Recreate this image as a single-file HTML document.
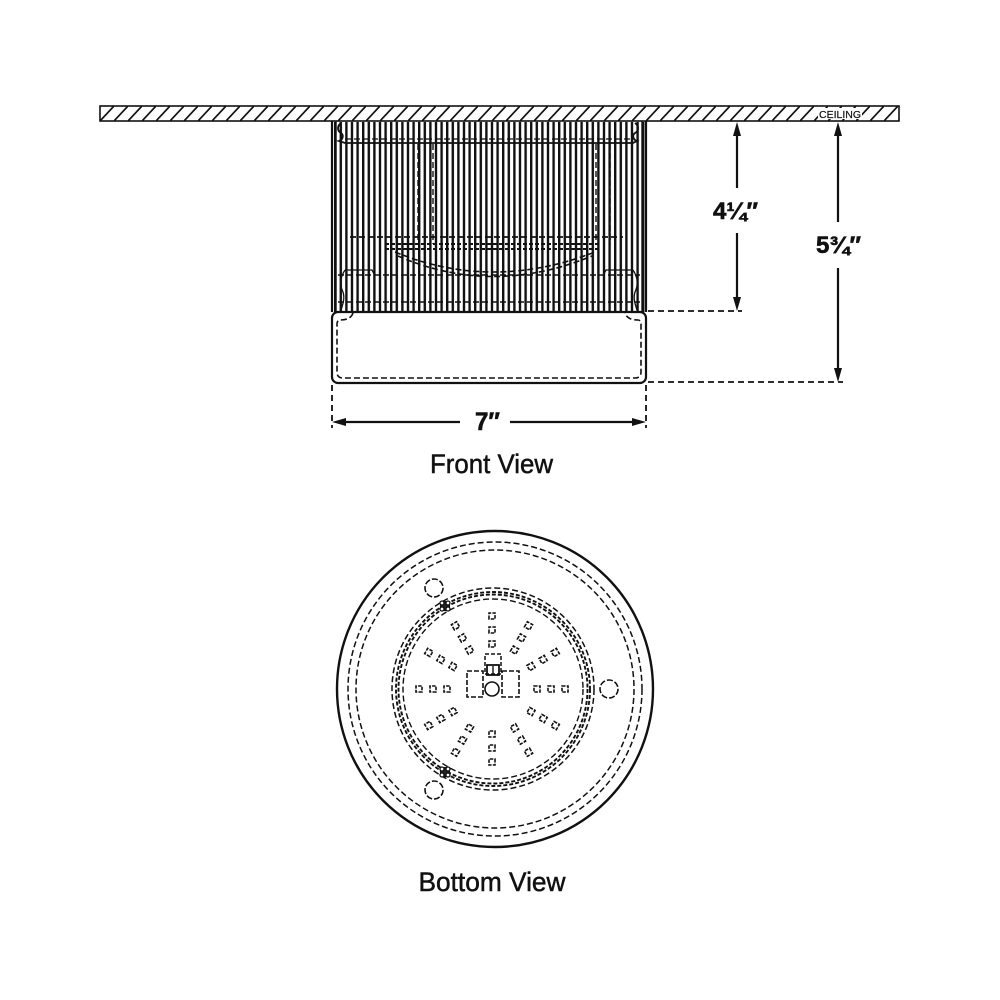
<!DOCTYPE html>
<html>
<head>
<meta charset="utf-8">
<style>
  html,body{margin:0;padding:0;background:#fff;}
  svg{display:block;}
  text{font-family:"Liberation Sans","DejaVu Sans",sans-serif;fill:#111;}
</style>
</head>
<body>
<svg width="1000" height="1000" viewBox="0 0 1000 1000" xmlns="http://www.w3.org/2000/svg">
  <defs>
    <pattern id="grille" x="334" y="0" width="5.6" height="10" patternUnits="userSpaceOnUse">
      <rect x="0" y="0" width="2.4" height="10" fill="#111"/>
    </pattern>
    <pattern id="hatch" x="100" y="106" width="14" height="15" patternUnits="userSpaceOnUse">
      <line x1="0" y1="15" x2="14" y2="0" stroke="#111" stroke-width="1.7"/>
    </pattern>
  </defs>
  <rect width="1000" height="1000" fill="#fff"/>

  <!-- ===== FRONT VIEW ===== -->
  <rect x="100" y="106" width="799" height="15" fill="url(#hatch)" stroke="#111" stroke-width="1.6"/>
  <rect x="818" y="108" width="44" height="11" fill="#fff"/>
  <text x="840" y="118" font-size="10" text-anchor="middle" textLength="42" lengthAdjust="spacingAndGlyphs" stroke="#111" stroke-width="0.2">CEILING</text>

  <!-- Grille -->
  <rect x="333" y="122" width="312" height="190" fill="url(#grille)"/>
  <line x1="332" y1="121" x2="332" y2="312" stroke="#111" stroke-width="2.2"/>
  <line x1="336" y1="121" x2="336" y2="312" stroke="#111" stroke-width="1.4"/>
  <line x1="646" y1="121" x2="646" y2="312" stroke="#111" stroke-width="2.2"/>
  <line x1="642" y1="121" x2="642" y2="312" stroke="#111" stroke-width="1.4"/>

  <!-- top bracket -->
  <g fill="none" stroke="#111" stroke-width="1.8">
    <path d="M341,123 c-4,3 -4,8 0,10 c3,2 2,7 -2,8 L345,143 L633,143 L637,141 c-4,-1 -5,-6 -2,-8 c4,-2 4,-7 0,-10"/>
    <line x1="345" y1="139" x2="633" y2="139" stroke-dasharray="6 3" stroke-width="1.2"/>
  </g>
  <!-- internal dashed detail -->
  <g fill="none" stroke="#111" stroke-width="1.4" stroke-dasharray="6 3">
    <line x1="418" y1="144" x2="418" y2="244"/>
    <line x1="433" y1="144" x2="433" y2="244"/>
    <line x1="596" y1="144" x2="596" y2="244"/>
    <line x1="610" y1="144" x2="610" y2="244"/>
    <line x1="350" y1="237" x2="623" y2="237" stroke-width="1.8"/>
    <line x1="385" y1="244" x2="600" y2="244" stroke-width="2" stroke-dasharray="4 2"/>
    <line x1="385" y1="249" x2="600" y2="249" stroke-width="2" stroke-dasharray="4 2"/>
    <path d="M395,252 Q492,292 595,252" stroke-width="1.6"/>
    <path d="M398,256 Q492,297 592,256" stroke-width="1.6"/>
    <line x1="338" y1="275" x2="640" y2="275" stroke-width="1.6"/>
    <line x1="338" y1="302" x2="640" y2="302" stroke-width="1.6"/>
  </g>
  <g fill="none" stroke="#111" stroke-width="1.3">
    <path d="M345,270 c-4,6 -6,14 -2,22 c2,6 0,12 -2,18"/>
    <path d="M633,270 c4,6 6,14 2,22 c-2,6 0,12 2,18"/>
    <path d="M345,270 L372,270 L375,276"/>
    <path d="M633,270 L606,270 L603,276"/>
  </g>

  <!-- Bottom box -->
  <rect x="332" y="312" width="314" height="71" rx="6" fill="#fff" stroke="#111" stroke-width="2.2"/>
  <path d="M353,313 c-2,6 -8,7 -13,7 c-2,0 -3,2 -3,4 L337,372 c0,4 2,6 6,6 L635,378 c4,0 6,-2 6,-6 L641,324 c0,-2 -1,-4 -3,-4 c-5,0 -11,-1 -13,-7"
        fill="none" stroke="#111" stroke-width="1.6" stroke-dasharray="6 3"/>

  <!-- Dimensions -->
  <g stroke="#111" stroke-width="2.2" fill="none">
    <line x1="737" y1="130" x2="737" y2="188"/>
    <line x1="737" y1="233" x2="737" y2="304"/>
    <line x1="838" y1="130" x2="838" y2="222"/>
    <line x1="838" y1="268" x2="838" y2="375"/>
    <line x1="340" y1="422" x2="460" y2="422"/>
    <line x1="510" y1="422" x2="640" y2="422"/>
  </g>
  <g fill="#111">
    <polygon points="737,122 733,136 741,136"/>
    <polygon points="737,311 733,297 741,297"/>
    <polygon points="838,122 834,136 842,136"/>
    <polygon points="838,382 834,368 842,368"/>
    <polygon points="332,422 346,418 346,426"/>
    <polygon points="646,422 632,418 632,426"/>
  </g>
  <g stroke="#111" stroke-width="1.8" stroke-dasharray="6 4" fill="none">
    <line x1="648" y1="311" x2="742" y2="311"/>
    <line x1="648" y1="382" x2="843" y2="382"/>
    <line x1="332" y1="385" x2="332" y2="428"/>
    <line x1="646" y1="385" x2="646" y2="428"/>
  </g>

  <text x="735.5" y="219" font-size="24" font-weight="bold" text-anchor="middle" textLength="45" lengthAdjust="spacingAndGlyphs" stroke="#111" stroke-width="0.6">4¼″</text>
  <text x="838.5" y="253" font-size="24" font-weight="bold" text-anchor="middle" textLength="45" lengthAdjust="spacingAndGlyphs" stroke="#111" stroke-width="0.6">5¾″</text>
  <text x="487.5" y="430" font-size="25" font-weight="bold" text-anchor="middle" textLength="25" lengthAdjust="spacingAndGlyphs" stroke="#111" stroke-width="0.6">7″</text>
  <text x="491.5" y="473" font-size="27" text-anchor="middle" textLength="123" lengthAdjust="spacingAndGlyphs" stroke="#111" stroke-width="0.5">Front View</text>

  <!-- ===== BOTTOM VIEW ===== -->
  <circle cx="495" cy="689" r="158" fill="none" stroke="#111" stroke-width="2.4"/>
  <circle cx="495" cy="689" r="147" fill="none" stroke="#111" stroke-width="1.5" stroke-dasharray="6 3"/>
  <circle cx="495" cy="689" r="139" fill="none" stroke="#111" stroke-width="1.5" stroke-dasharray="6 3"/>

  <circle cx="493" cy="689" r="101" fill="none" stroke="#111" stroke-width="1.5" stroke-dasharray="6 3"/>
  <circle cx="493" cy="689" r="97" fill="none" stroke="#111" stroke-width="1.9" stroke-dasharray="4 2"/>
  <circle cx="493" cy="689" r="94.5" fill="none" stroke="#111" stroke-width="1.9" stroke-dasharray="4 2"/>
  <circle cx="493" cy="689" r="90" fill="none" stroke="#111" stroke-width="1.4" stroke-dasharray="6 3"/>

  <!-- holes -->
  <g fill="none" stroke="#111" stroke-width="1.6" stroke-dasharray="6 2">
    <circle cx="434" cy="588" r="9"/>
    <circle cx="609" cy="689" r="9"/>
    <circle cx="434" cy="790" r="9"/>
  </g>
  <!-- rosettes -->
  <g fill="#fff" stroke="#111" stroke-width="1.3">
    <circle cx="445" cy="606" r="4.5" fill="#222"/>
    <circle cx="442" cy="603" r="2"/>
    <circle cx="448" cy="603" r="2"/>
    <circle cx="442" cy="609" r="2"/>
    <circle cx="448" cy="609" r="2"/>
    <circle cx="445" cy="772" r="4.5" fill="#222"/>
    <circle cx="442" cy="769" r="2"/>
    <circle cx="448" cy="769" r="2"/>
    <circle cx="442" cy="775" r="2"/>
    <circle cx="448" cy="775" r="2"/>
  </g>

  <!-- hub -->
  <g fill="none" stroke="#111">
    <circle cx="492" cy="689" r="7" stroke-width="1.6"/>
    <rect x="467" y="671" width="16" height="26" stroke-width="1.6" stroke-dasharray="5 2"/>
    <rect x="502" y="671" width="17" height="26" stroke-width="1.6" stroke-dasharray="5 2"/>
    <rect x="485" y="654" width="16" height="20" stroke-width="1.5" stroke-dasharray="4 2"/>
    <rect x="487" y="665" width="12" height="10" stroke-width="1.8"/>
    <line x1="493" y1="666" x2="493" y2="674" stroke-width="1.4"/>
  </g>

  <!-- LED squares: 12 rays x 3 -->
  <g fill="none" stroke="#111" stroke-width="1.6" stroke-dasharray="3.5 1.2">
    <g transform="translate(492 689)">
      <g id="ray">
        <rect x="42" y="-3" width="6" height="6"/>
        <rect x="56" y="-3" width="6" height="6"/>
        <rect x="70" y="-3" width="6" height="6"/>
      </g>
      <use href="#ray" transform="rotate(30)"/>
      <use href="#ray" transform="rotate(60)"/>
      <use href="#ray" transform="rotate(90)"/>
      <use href="#ray" transform="rotate(120)"/>
      <use href="#ray" transform="rotate(150)"/>
      <use href="#ray" transform="rotate(180)"/>
      <use href="#ray" transform="rotate(210)"/>
      <use href="#ray" transform="rotate(240)"/>
      <use href="#ray" transform="rotate(270)"/>
      <use href="#ray" transform="rotate(300)"/>
      <use href="#ray" transform="rotate(330)"/>
    </g>
  </g>

  <text x="492" y="891" font-size="27" text-anchor="middle" textLength="147" lengthAdjust="spacingAndGlyphs" stroke="#111" stroke-width="0.5">Bottom View</text>
</svg>
</body>
</html>
